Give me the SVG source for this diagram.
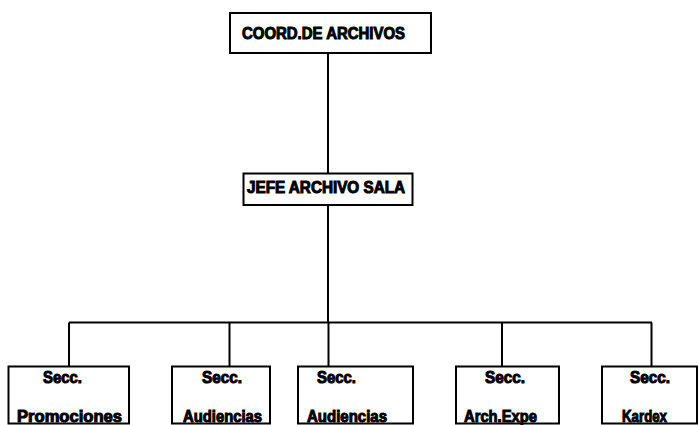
<svg xmlns="http://www.w3.org/2000/svg" width="699" height="425" viewBox="0 0 699 425">
<style>
.box{fill:#fff;stroke:#000;stroke-width:2}
.ln{fill:none;stroke:#000;stroke-width:2}
text{font-family:"Liberation Sans",Arial,sans-serif;font-weight:bold;font-size:16px;fill:#000;stroke:#000;stroke-width:1}
</style>
<rect width="699" height="425" fill="#fff"/>
<g id="connectors">
<path class="ln" d="M328,53 V173 M328,205 V322.5 M69,322.5 H652 M69,322.5 V366.5 M229.5,322.5 V366.5 M328.5,322.5 V366.5 M502,322.5 V366.5 M651.5,322.5 V366.5"/>
</g>
<g id="coord">
<rect class="box" x="230" y="13" width="201" height="40"/>
<text x="242" y="39" textLength="163" lengthAdjust="spacingAndGlyphs">COORD.DE ARCHIVOS</text>
</g>
<g id="jefe">
<rect class="box" x="243.5" y="173.5" width="169" height="31.5"/>
<text x="247" y="192.5" textLength="158" lengthAdjust="spacingAndGlyphs">JEFE ARCHIVO SALA</text>
</g>
<g id="promociones">
<rect class="box" x="8.5" y="366.5" width="120.5" height="57"/>
<text x="43" y="382.5" textLength="39" lengthAdjust="spacingAndGlyphs">Secc.</text>
<text x="17" y="421.5" textLength="105" lengthAdjust="spacingAndGlyphs">Promociones</text>
</g>
<g id="audiencias1">
<rect class="box" x="172" y="366.5" width="98" height="57"/>
<text x="202" y="382.5" textLength="40" lengthAdjust="spacingAndGlyphs">Secc.</text>
<text x="183" y="421.5" textLength="79" lengthAdjust="spacingAndGlyphs">Audiencias</text>
</g>
<g id="audiencias2">
<rect class="box" x="298" y="366.5" width="115" height="57"/>
<text x="317" y="382.5" textLength="39" lengthAdjust="spacingAndGlyphs">Secc.</text>
<text x="307" y="421.5" textLength="80" lengthAdjust="spacingAndGlyphs">Audiencias</text>
</g>
<g id="archexpe">
<rect class="box" x="456" y="366.5" width="103" height="57"/>
<text x="485" y="382.5" textLength="40" lengthAdjust="spacingAndGlyphs">Secc.</text>
<text x="464" y="421.5" textLength="73" lengthAdjust="spacingAndGlyphs">Arch.Expe</text>
</g>
<g id="kardex">
<rect class="box" x="602" y="366.5" width="95" height="57"/>
<text x="630" y="382.5" textLength="40" lengthAdjust="spacingAndGlyphs">Secc.</text>
<text x="622" y="421.5" textLength="45" lengthAdjust="spacingAndGlyphs">Kardex</text>
</g>
</svg>
